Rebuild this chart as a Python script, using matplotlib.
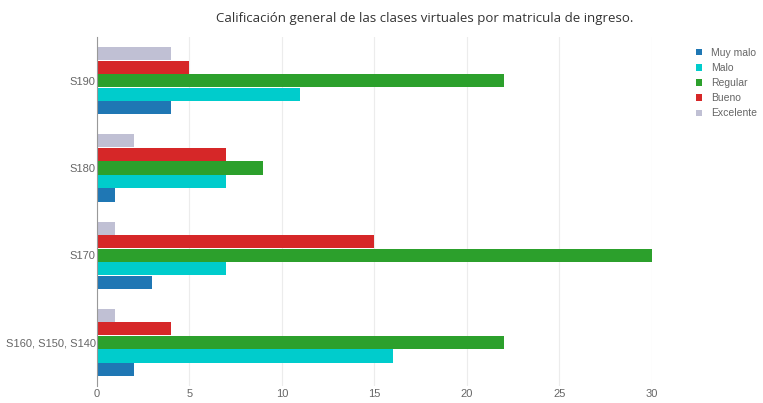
import matplotlib
matplotlib.use("Agg")
import matplotlib.pyplot as plt
import numpy as np

categories = ["S160, S150, S140", "S170", "S180", "S190"]
series_names = ["Muy malo", "Malo", "Regular", "Bueno", "Excelente"]
muy_malo = [2, 3, 1, 4]
malo = [16, 7, 7, 11]
regular = [22, 30, 9, 22]
bueno = [4, 15, 7, 5]
excelente = [1, 1, 2, 4]
colors = ["#1f77b4", "#00cccc", "#2ca02c", "#d62728", "#c0c0d4"]

values = [muy_malo, malo, regular, bueno, excelente]

fig = plt.figure(figsize=(7.63, 4.03), dpi=100)
ax = fig.add_axes([0.127, 0.042, 0.727, 0.866])

y = np.arange(len(categories))
h = 0.155
for i, (name, vals, col) in enumerate(zip(series_names, values, colors)):
    offset = (i - 2) * h
    ax.barh(y + offset, vals, height=h * 0.97, color=col, label=name, zorder=2)

ax.set_xlim(0, 30)
ax.set_ylim(-0.5, 3.5)
ax.set_xticks([0, 5, 10, 15, 20, 25, 30])
ax.set_yticks(y)
ax.set_yticklabels(categories)
ax.grid(axis="x", color="#ececec", linewidth=0.8, zorder=0)
for side in ["top", "right", "bottom"]:
    ax.spines[side].set_visible(False)
ax.spines["left"].set_color("#999999")
ax.tick_params(axis="both", length=0, colors="#666666", labelsize=8)
ax.tick_params(axis="y", pad=1)
ax.tick_params(axis="x", pad=2)
for lbl in ax.get_xticklabels() + ax.get_yticklabels():
    lbl.set_family("Liberation Sans")

fig.text(0.557, 0.955, "Calificación general de las clases virtuales por matricula de ingreso.",
         ha="center", va="center", fontsize=9.5, color="#333333", family="Open Sans")

handles, labels = ax.get_legend_handles_labels()
leg = fig.legend(handles, labels, loc="upper left", bbox_to_anchor=(0.9, 0.905),
                 frameon=False, handlelength=0.6, handleheight=0.6,
                 handletextpad=0.8, labelspacing=0.5, prop={"family": "Liberation Sans", "size": 7.5})
for t in leg.get_texts():
    t.set_color("#666666")

fig.savefig("out.png", dpi=100)
